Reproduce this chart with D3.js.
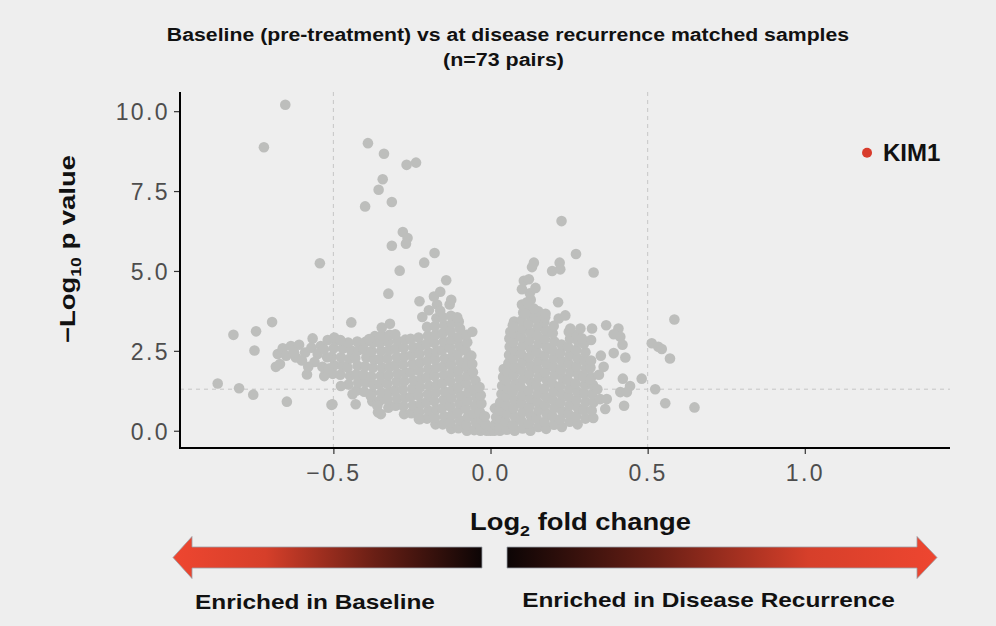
<!DOCTYPE html>
<html>
<head>
<meta charset="utf-8">
<script src="https://cdn.jsdelivr.net/npm/d3@7"></script>
<style>
  body { margin: 0; background: #eeeeee; }
  text { font-family: "Liberation Sans", Arial, sans-serif; }
</style>
</head>
<body>
<div id="chart"></div>
<script>

// ---- data: [log2 fold change, -log10 p] ----
var leftCore = [
  [-0.502,1.78],[-0.497,2.05],[-0.505,2.31],[-0.499,2.58],[-0.494,2.83],
  [-0.478,1.75],[-0.472,2.03],[-0.476,2.30],[-0.47,2.57],[-0.479,2.83],
  [-0.452,1.45],[-0.447,1.72],[-0.455,1.98],[-0.449,2.25],[-0.444,2.52],[-0.453,2.76],
  [-0.426,1.26],[-0.421,1.51],[-0.428,1.76],[-0.423,2.03],[-0.43,2.28],[-0.419,2.53],[-0.424,2.79],
  [-0.402,1.22],[-0.397,1.5],[-0.404,1.76],[-0.399,2.02],[-0.395,2.29],[-0.403,2.55],[-0.398,2.78],
  [-0.376,0.92],[-0.377,1.18],[-0.372,1.44],[-0.379,1.70],[-0.374,1.97],[-0.37,2.23],[-0.378,2.49],[-0.373,2.75],[-0.368,2.96],
  [-0.352,0.95],[-0.347,1.2],[-0.354,1.46],[-0.349,1.72],[-0.345,1.98],[-0.353,2.24],[-0.348,2.5],[-0.351,2.76],[-0.346,2.98],
  [-0.325,0.72],[-0.327,0.97],[-0.322,1.22],[-0.329,1.48],[-0.324,1.74],[-0.32,2.0],[-0.328,2.26],[-0.323,2.52],[-0.326,2.78],[-0.321,3.0],
  [-0.302,0.78],[-0.297,1.02],[-0.304,1.27],[-0.299,1.53],[-0.295,1.79],[-0.303,2.05],[-0.298,2.31],[-0.301,2.57],[-0.296,2.82],[-0.303,3.02],
  [-0.275,0.52],[-0.277,0.77],[-0.272,1.03],[-0.279,1.29],[-0.274,1.55],[-0.27,1.81],[-0.278,2.07],[-0.273,2.33],[-0.276,2.59],[-0.271,2.85],
  [-0.252,0.55],[-0.247,0.8],[-0.254,1.06],[-0.249,1.32],[-0.245,1.58],[-0.253,1.84],[-0.248,2.1],[-0.251,2.36],[-0.246,2.62],[-0.254,2.88],
  [-0.225,0.36],[-0.227,0.59],[-0.222,0.84],[-0.229,1.1],[-0.224,1.36],[-0.22,1.62],[-0.228,1.88],[-0.223,2.14],[-0.226,2.4],[-0.221,2.66],[-0.229,2.92],
  [-0.202,0.38],[-0.197,0.63],[-0.204,0.89],[-0.199,1.15],[-0.195,1.41],[-0.203,1.67],[-0.198,1.93],[-0.201,2.19],[-0.196,2.45],[-0.204,2.71],[-0.199,2.97],[-0.202,3.25],
  [-0.175,0.2],[-0.177,0.41],[-0.172,0.67],[-0.179,0.93],[-0.174,1.19],[-0.17,1.45],[-0.178,1.71],[-0.173,1.97],[-0.176,2.23],[-0.171,2.49],[-0.179,2.75],[-0.174,3.01],[-0.177,3.27],[-0.172,3.52],
  [-0.152,0.2],[-0.147,0.45],[-0.154,0.71],[-0.149,0.97],[-0.145,1.23],[-0.153,1.49],[-0.148,1.75],[-0.151,2.01],[-0.146,2.27],[-0.154,2.53],[-0.149,2.79],[-0.152,3.05],[-0.147,3.31],[-0.153,3.56],
  [-0.125,0.06],[-0.127,0.26],[-0.122,0.51],[-0.129,0.77],[-0.124,1.03],[-0.12,1.29],[-0.128,1.55],[-0.123,1.81],[-0.126,2.07],[-0.121,2.33],[-0.129,2.59],[-0.124,2.85],[-0.127,3.11],[-0.122,3.37],[-0.126,3.6],
  [-0.102,0.08],[-0.097,0.33],[-0.104,0.59],[-0.099,0.85],[-0.095,1.11],[-0.103,1.37],[-0.098,1.63],[-0.101,1.89],[-0.096,2.15],[-0.104,2.41],[-0.099,2.67],[-0.102,2.93],[-0.097,3.2],[-0.101,3.42],
  [-0.075,0.0],[-0.077,0.18],[-0.072,0.43],[-0.079,0.69],[-0.074,0.95],[-0.07,1.21],[-0.078,1.47],[-0.073,1.73],[-0.076,1.99],[-0.071,2.25],[-0.079,2.51],[-0.074,2.77],[-0.077,3.0],
  [-0.052,0.02],[-0.047,0.27],[-0.054,0.53],[-0.049,0.79],[-0.045,1.05],[-0.053,1.31],[-0.048,1.57],[-0.056,1.83],[-0.058,2.09],[-0.061,2.35],
  [-0.032,0.0],[-0.03,0.1],[-0.028,0.35],[-0.034,0.59],[-0.029,0.85],[-0.031,1.11],[-0.035,1.37],
  [-0.012,0.0],[-0.015,0.2],[-0.018,0.45],[0.0,0.0],[0.008,0.05]
];

var rightCore = [
  [0.012,0.0],[0.015,0.2],[0.018,0.42],[0.014,0.7],
  [0.03,0.0],[0.028,0.13],[0.033,0.38],[0.029,0.63],[0.031,0.89],[0.035,1.15],[0.037,1.41],[0.04,1.68],[0.042,1.93],
  [0.052,0.03],[0.048,0.29],[0.053,0.55],[0.049,0.81],[0.051,1.07],[0.055,1.33],[0.05,1.59],[0.054,1.85],[0.057,2.11],[0.059,2.37],[0.061,2.63],[0.06,2.89],[0.063,3.1],
  [0.077,0.0],[0.072,0.18],[0.078,0.44],[0.073,0.7],[0.076,0.96],[0.071,1.22],[0.079,1.48],[0.074,1.74],[0.077,2.0],[0.072,2.26],[0.078,2.52],[0.073,2.78],[0.076,3.04],[0.071,3.3],[0.075,3.42],
  [0.102,0.07],[0.097,0.33],[0.103,0.59],[0.098,0.85],[0.101,1.11],[0.096,1.37],[0.104,1.63],[0.099,1.89],[0.102,2.15],[0.097,2.41],[0.103,2.67],[0.098,2.93],[0.101,3.19],[0.099,3.45],[0.104,3.7],[0.1,3.95],
  [0.127,0.0],[0.122,0.22],[0.128,0.48],[0.123,0.74],[0.126,1.0],[0.121,1.26],[0.129,1.52],[0.124,1.78],[0.127,2.04],[0.122,2.3],[0.128,2.56],[0.123,2.82],[0.126,3.08],[0.121,3.34],[0.127,3.6],[0.124,3.85],[0.128,4.1],[0.125,4.3],
  [0.152,0.12],[0.147,0.38],[0.153,0.64],[0.148,0.9],[0.151,1.16],[0.146,1.42],[0.154,1.68],[0.149,1.94],[0.152,2.2],[0.147,2.46],[0.153,2.72],[0.148,2.98],[0.151,3.24],[0.146,3.5],[0.152,3.74],
  [0.177,0.06],[0.172,0.28],[0.178,0.54],[0.173,0.8],[0.176,1.06],[0.171,1.32],[0.179,1.58],[0.174,1.84],[0.177,2.1],[0.172,2.36],[0.178,2.62],[0.173,2.88],[0.176,3.14],[0.171,3.4],[0.174,3.55],
  [0.202,0.19],[0.197,0.45],[0.203,0.71],[0.198,0.97],[0.201,1.23],[0.196,1.49],[0.204,1.75],[0.199,2.01],[0.202,2.27],[0.197,2.53],[0.203,2.79],[0.198,3.05],[0.201,3.28],
  [0.227,0.12],[0.222,0.36],[0.228,0.62],[0.223,0.88],[0.226,1.14],[0.221,1.4],[0.229,1.66],[0.224,1.92],[0.227,2.18],[0.222,2.44],[0.226,2.7],
  [0.252,0.28],[0.247,0.54],[0.253,0.8],[0.248,1.06],[0.251,1.32],[0.246,1.58],[0.254,1.84],[0.249,2.1],[0.252,2.36],[0.247,2.62],[0.253,2.88],[0.249,3.1],
  [0.277,0.2],[0.272,0.45],[0.278,0.71],[0.273,0.97],[0.276,1.23],[0.271,1.49],[0.279,1.75],[0.274,2.01],[0.277,2.27],[0.272,2.53],[0.279,2.79],[0.275,3.0],
  [0.302,0.38],[0.297,0.64],[0.303,0.9],[0.298,1.16],[0.301,1.42],[0.296,1.68],[0.304,1.94],[0.299,2.2],[0.302,2.46],[0.297,2.72],
  [0.327,0.4],[0.322,0.63],[0.328,0.89],[0.323,1.15],[0.326,1.43],[0.321,1.68],[0.318,1.98],[0.32,2.2]
];

var leftWing = [
  [-0.677,2.4],[-0.661,2.58],[-0.635,2.65],[-0.609,2.69],[-0.619,2.29],[-0.683,2.0],[-0.670,2.09],
  [-0.566,2.89],[-0.518,2.84],[-0.497,2.92],[-0.478,2.84],[-0.584,1.76],[-0.529,1.71],[-0.476,1.4],
  [-0.386,2.87],[-0.381,1.09],[-0.358,0.58],
  [-0.59,2.45],[-0.57,2.6],[-0.55,2.4],[-0.56,2.15],[-0.535,2.0],[-0.54,2.65],[-0.52,2.3],
  [-0.6,2.2],[-0.65,2.35],[-0.625,2.45],[-0.58,2.0],[-0.515,1.95],[-0.53,2.55]
];

var leftOutliers = [
  [-0.653,10.2],[-0.721,8.87],[-0.390,9.0],[-0.339,8.67],[-0.267,8.32],[-0.237,8.39],
  [-0.343,7.87],[-0.356,7.54],[-0.399,7.02],[-0.314,7.16],[-0.279,6.22],[-0.264,6.03],
  [-0.269,5.85],[-0.314,5.79],[-0.178,5.56],[-0.211,5.26],[-0.543,5.24],[-0.289,5.01],
  [-0.141,4.71],[-0.325,4.29],[-0.226,4.05],[-0.18,4.2],[-0.16,4.35],[-0.17,3.95],
  [-0.13,3.95],[-0.125,4.1],[-0.217,3.56],[-0.196,3.77],[-0.443,3.39],[-0.346,3.23],
  [-0.320,3.35],[-0.16,3.75],[-0.106,3.55],[-0.695,3.40],[-0.746,3.11],[-0.818,3.0],
  [-0.751,2.51],[-0.868,1.48],[-0.800,1.33],[-0.755,1.13],[-0.648,0.91],[-0.506,0.81],
  [-0.439,1.14],[-0.429,0.83],[-0.503,0.83],[-0.349,0.52],[-0.36,0.78],[-0.228,0.37],[-0.058,3.1]
];

var rightOutliers = [
  [0.226,6.56],[0.272,5.53],[0.328,4.95],[0.138,5.26],[0.132,5.12],[0.196,5.0],[0.222,5.05],
  [0.220,5.26],[0.106,4.69],[0.122,4.74],[0.10,4.43],[0.143,4.47],[0.116,4.02],[0.138,3.82],
  [0.111,3.66],[0.215,4.02],[0.217,3.51],[0.238,3.61],[0.175,3.66],[0.074,3.25],[0.254,3.2],
  [0.286,3.2],[0.323,3.2],[0.368,3.3],[0.407,3.2],[0.392,3.02],[0.413,2.94],[0.42,2.69],
  [0.392,2.43],[0.429,2.29],[0.351,2.35],[0.32,2.84],[0.291,2.89],[0.513,2.74],[0.534,2.63],
  [0.545,2.56],[0.571,2.26],[0.585,3.48],[0.481,1.63],[0.421,1.63],[0.444,1.4],[0.413,1.21],
  [0.434,1.21],[0.524,1.30],[0.425,0.78],[0.349,0.99],[0.37,0.99],[0.365,0.68],[0.317,1.6],
  [0.556,0.86],[0.649,0.73],[0.34,1.3],[0.345,1.75],[0.36,2.0]
];

// highlighted protein
var kim1 = { name: "KIM1", fc: 1.198, p: 8.70 };

var xTicks = [-0.5, 0, 0.5, 1.0];
var yTicks = [0, 2.5, 5, 7.5, 10];
var fcCuts = [-0.5, 0.5];
var pCut = 1.3;

var svgWidth = 996;
var svgHeight = 626;

var svg = d3.select("#chart")
  .append("svg")
  .attr("width", svgWidth)
  .attr("height", svgHeight)
  .style("background", "#eeeeee");

var plot = { left: 180, right: 950, top: 92, bottom: 448 };

var xScale = d3.scaleLinear()
  .domain([-0.988, 1.462])
  .range([plot.left, plot.right]);

var yScale = d3.scaleLinear()
  .domain([-0.54, 10.6])
  .range([plot.bottom, plot.top]);

// dashed threshold lines
svg.selectAll(".vcut")
  .data(fcCuts)
  .enter()
  .append("line")
  .attr("x1", d => xScale(d))
  .attr("x2", d => xScale(d))
  .attr("y1", plot.top)
  .attr("y2", plot.bottom)
  .attr("stroke", "#c6c6c6")
  .attr("stroke-width", 1)
  .attr("stroke-dasharray", "4,4");

svg.append("line")
  .attr("x1", plot.left)
  .attr("x2", plot.right)
  .attr("y1", yScale(pCut))
  .attr("y2", yScale(pCut))
  .attr("stroke", "#c6c6c6")
  .attr("stroke-width", 1)
  .attr("stroke-dasharray", "4,4");

// all the grey points
var allPoints = leftCore.concat(rightCore, leftWing, leftOutliers, rightOutliers);

svg.append("g")
  .selectAll("circle")
  .data(allPoints)
  .enter()
  .append("circle")
  .attr("cx", d => xScale(d[0]))
  .attr("cy", d => yScale(d[1]))
  .attr("r", 5.3)
  .attr("fill", "#bdbebc");

// KIM1
svg.append("circle")
  .attr("cx", xScale(kim1.fc))
  .attr("cy", yScale(kim1.p))
  .attr("r", 5)
  .attr("fill", "#d83b2b");

svg.append("text")
  .attr("x", xScale(kim1.fc) + 16)
  .attr("y", yScale(kim1.p) + 8.5)
  .attr("font-size", "24px")
  .attr("font-weight", "bold")
  .attr("fill", "#111")
  .text(kim1.name);

// axes
var fmt = d3.format(".1f");

var xAxis = svg.append("g")
  .attr("transform", `translate(0, ${plot.bottom})`)
  .call(d3.axisBottom(xScale).tickValues(xTicks).tickFormat(fmt).tickSize(6).tickPadding(6));

var yAxis = svg.append("g")
  .attr("transform", `translate(${plot.left}, 0)`)
  .call(d3.axisLeft(yScale).tickValues(yTicks).tickFormat(fmt).tickSize(6).tickPadding(4));

[xAxis, yAxis].forEach(function(ax) {
  ax.select(".domain").remove();
  ax.selectAll(".tick line").attr("stroke", "#333").attr("stroke-width", 1.2);
  ax.selectAll(".tick text")
    .attr("fill", "#4d4d4d")
    .attr("font-size", "23px")
    .attr("font-family", "Liberation Sans, Arial, sans-serif")
    .style("letter-spacing", "2.4px");
});
xAxis.selectAll(".tick text").attr("dy", "0.9em");
yAxis.selectAll(".tick text").attr("dy", "0.36em");

// axis lines drawn as one L shape
svg.append("path")
  .attr("d", `M${plot.left},${plot.top}V${plot.bottom}H${plot.right}`)
  .attr("fill", "none")
  .attr("stroke", "#000")
  .attr("stroke-width", 2);

// the lettering in the original is wider than Liberation Sans, so stretch to measured widths
function stretchText(sel, cx, cy, width, angle) {
  var w = sel.node().getBBox().width;
  var k = width / w;
  sel.attr("x", 0).attr("y", 0)
    .attr("text-anchor", "middle")
    .attr("transform", `translate(${cx},${cy}) rotate(${angle || 0}) scale(${k},1)`);
}

function boldText(str, size) {
  return svg.append("text")
    .attr("font-size", size)
    .attr("font-weight", "bold")
    .attr("fill", "#111")
    .text(str);
}

// title
stretchText(boldText("Baseline (pre-treatment) vs at disease recurrence matched samples", "18.5px"), 508, 40.5, 683);
stretchText(boldText("(n=73 pairs)", "18.5px"), 503.5, 65.5, 121);

// axis titles
var xLabel = boldText("", "23px");
xLabel.append("tspan").text("Log");
xLabel.append("tspan").attr("font-size", "15px").attr("dy", 6).text("2");
xLabel.append("tspan").attr("dy", -6).text(" fold change");
stretchText(xLabel, 580.5, 530, 221);

var yLabel = boldText("", "22px");
yLabel.append("tspan").text("\u2212Log");
yLabel.append("tspan").attr("font-size", "14px").attr("dy", 6).text("10");
yLabel.append("tspan").attr("dy", -6).text(" p value");
stretchText(yLabel, 75, 249, 188, -90);

// direction arrows with gradients
var defs = svg.append("defs");

function addGradient(id, x1, x2) {
  var g = defs.append("linearGradient")
    .attr("id", id)
    .attr("gradientUnits", "userSpaceOnUse")
    .attr("x1", x1).attr("x2", x2)
    .attr("y1", 0).attr("y2", 0);
  g.append("stop").attr("offset", "0%").attr("stop-color", "#ee4630");
  g.append("stop").attr("offset", "30%").attr("stop-color", "#d63f2a");
  g.append("stop").attr("offset", "65%").attr("stop-color", "#6a1f15");
  g.append("stop").attr("offset", "100%").attr("stop-color", "#0c0505");
}
addGradient("gradLeft", 173, 482);
addGradient("gradRight", 937, 507);

var arrowY = 557.5, bodyH = 10.5, headH = 21;

svg.append("path")
  .attr("d", `M173,${arrowY} L192,${arrowY - headH} L192,${arrowY - bodyH} L482,${arrowY - bodyH} L482,${arrowY + bodyH} L192,${arrowY + bodyH} L192,${arrowY + headH} Z`)
  .attr("fill", "url(#gradLeft)")
  .attr("stroke", "#9aa0a6")
  .attr("stroke-width", 0.8);

svg.append("path")
  .attr("d", `M937,${arrowY} L917,${arrowY - headH} L917,${arrowY - bodyH} L507,${arrowY - bodyH} L507,${arrowY + bodyH} L917,${arrowY + bodyH} L917,${arrowY + headH} Z`)
  .attr("fill", "url(#gradRight)")
  .attr("stroke", "#9aa0a6")
  .attr("stroke-width", 0.8);

stretchText(boldText("Enriched in Baseline", "21px"), 315, 609, 240);
stretchText(boldText("Enriched in Disease Recurrence", "21px"), 708.5, 607, 373);

</script>
</body>
</html>
